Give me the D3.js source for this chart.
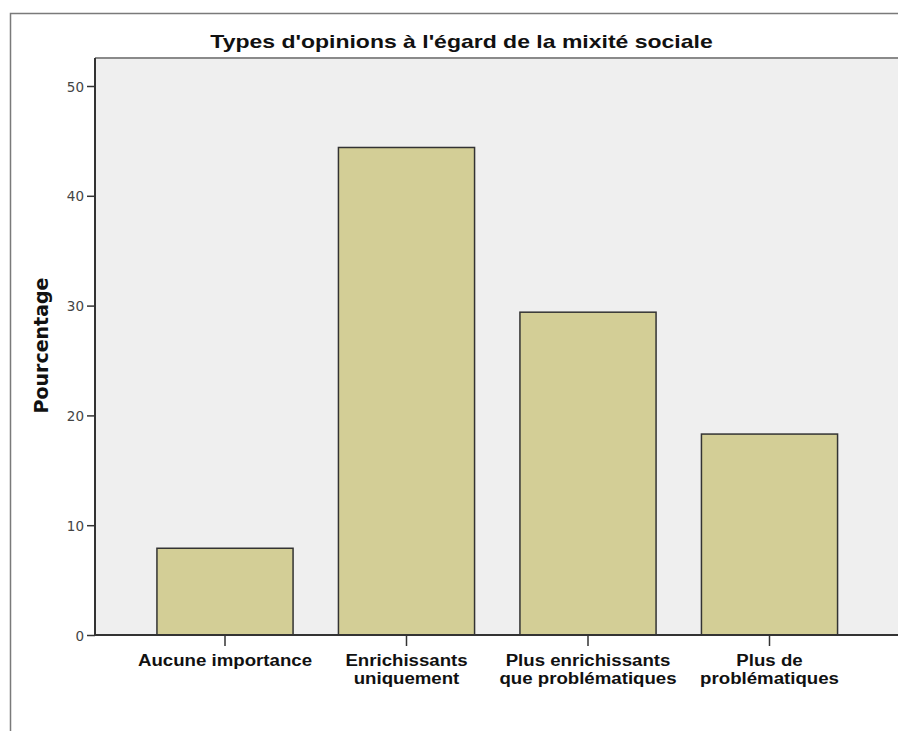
<!DOCTYPE html>
<html><head><meta charset="utf-8">
<script src="https://cdn.jsdelivr.net/npm/d3@7"></script>
<style>body{margin:0;background:#fff}svg{display:block}</style>
</head><body>
<script>
const categories = [
  ["Aucune importance"],
  ["Enrichissants", "uniquement"],
  ["Plus enrichissants", "que problématiques"],
  ["Plus de", "problématiques"]
];
const values = [7.9, 44.4, 29.4, 18.3];
const yTicks = [0, 10, 20, 30, 40, 50];
const title = "Types d'opinions à l'égard de la mixité sociale";
const yLabel = "Pourcentage";

const W = 898, H = 731;
const svg = d3.select("body").append("svg").attr("width", W).attr("height", H);

// outer frame
svg.append("path").attr("d", `M10.5,${H} V13.5 H${W}`).attr("fill","none").attr("stroke","#7a7a7a").attr("stroke-width",1.5);

const plot = {left: 95, top: 58, right: W, bottom: 635};
const y = d3.scaleLinear().domain([0, 50]).range([plot.bottom, 86]);
const x = d3.scaleBand().domain(d3.range(categories.length))
  .range([134.25, 860.25]).paddingInner(0.25).paddingOuter(0.125);

// plot background
svg.append("rect").attr("x", plot.left).attr("y", plot.top)
  .attr("width", plot.right - plot.left).attr("height", plot.bottom - plot.top)
  .attr("fill", "#efefef");
svg.append("line").attr("x1", plot.left).attr("x2", plot.right)
  .attr("y1", plot.top).attr("y2", plot.top).attr("stroke", "#8a8a8a").attr("stroke-width", 2);

// stretch text horizontally to the width seen in the reference
function stretch(sel, factor) {
  sel.each(function() {
    const w = this.getComputedTextLength();
    d3.select(this).attr("textLength", w * factor).attr("lengthAdjust", "spacingAndGlyphs");
  });
}

// title
svg.append("text").attr("x", 461.5).attr("y", 48).attr("text-anchor", "middle")
  .attr("font-family", "Liberation Sans, Arial, sans-serif").attr("font-weight", "bold")
  .attr("font-size", 19).attr("fill", "#111").text(title)
  .call(stretch, 1.21);

// bars
svg.append("g").selectAll("rect").data(values).join("rect")
  .attr("x", (d, i) => x(i)).attr("width", x.bandwidth())
  .attr("y", d => y(d)).attr("height", d => y(0) - y(d))
  .attr("fill", "#d3ce96").attr("stroke", "#333").attr("stroke-width", 1.5);

// y axis
const yAxis = d3.axisLeft(y).tickValues(yTicks).tickSize(8).tickPadding(3).tickFormat(d3.format("d"));
const gy = svg.append("g").attr("transform", `translate(${plot.left},0)`).call(yAxis);
gy.select(".domain").attr("d", `M0,${plot.top}V${plot.bottom}`).attr("stroke", "#333").attr("stroke-width", 2);
gy.selectAll(".tick line").attr("stroke", "#333").attr("stroke-width", 1.5);
gy.selectAll(".tick text").attr("font-family", "DejaVu Sans, sans-serif").attr("font-size", 13.5)
  .attr("fill", "#444").attr("dy", "0.38em");

// x axis
const xAxis = d3.axisBottom(x).tickSize(11).tickFormat("");
const gx = svg.append("g").attr("transform", `translate(0,${plot.bottom})`).call(xAxis);
gx.select(".domain").attr("d", `M${plot.left},0H${plot.right}`).attr("stroke", "#333").attr("stroke-width", 2);
gx.selectAll(".tick line").attr("stroke", "#333").attr("stroke-width", 1.5);
gx.selectAll(".tick").each(function(d) {
  const t = d3.select(this).append("text").attr("text-anchor", "middle")
    .attr("font-family", "Liberation Sans, Arial, sans-serif").attr("font-weight", "bold")
    .attr("font-size", 16).attr("fill", "#111");
  categories[d].forEach((line, k) => {
    t.append("tspan").attr("x", 0).attr("y", 30.5 + k * 18.5).text(line);
  });
});
gx.selectAll(".tick tspan").call(stretch, 1.165);

// y label
svg.append("text").attr("transform", "translate(48,345.5) rotate(-90)")
  .attr("text-anchor", "middle").attr("font-family", "DejaVu Sans, sans-serif")
  .attr("font-weight", "bold").attr("font-size", 19).attr("fill", "#111").text(yLabel);
</script>
</body></html>
